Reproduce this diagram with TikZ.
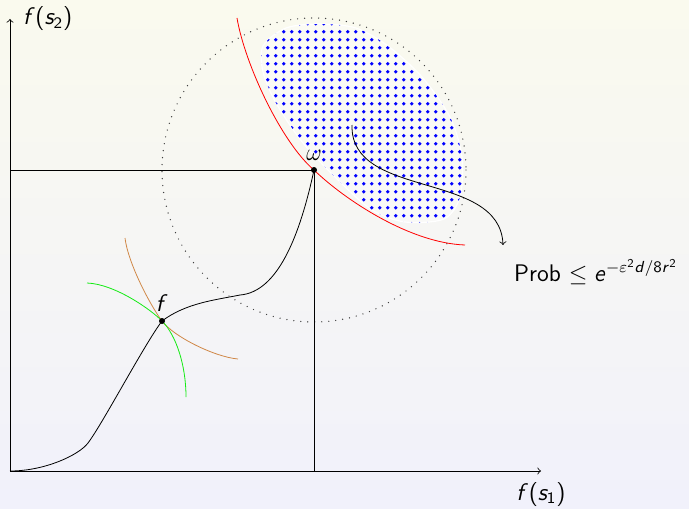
\documentclass[tikz,border=0pt]{standalone}
\DeclareSymbolFont{sfletters}{OT1}{cmss}{m}{sl}
\DeclareSymbolFont{sfdigits}{OT1}{cmss}{m}{n}
\DeclareMathSymbol{f}{\mathalpha}{sfletters}{`f}
\DeclareMathSymbol{s}{\mathalpha}{sfletters}{`s}
\DeclareMathSymbol{e}{\mathalpha}{sfletters}{`e}
\DeclareMathSymbol{d}{\mathalpha}{sfletters}{`d}
\DeclareMathSymbol{r}{\mathalpha}{sfletters}{`r}
\DeclareMathSymbol{1}{\mathalpha}{sfdigits}{`1}
\DeclareMathSymbol{2}{\mathalpha}{sfdigits}{`2}
\DeclareMathSymbol{8}{\mathalpha}{sfdigits}{`8}
\DeclareMathSymbol{(}{\mathopen}{sfdigits}{`(}
\DeclareMathSymbol{)}{\mathclose}{sfdigits}{`)}
\DeclareMathSymbol{/}{\mathord}{sfdigits}{`/}
\definecolor{bgtop}{RGB}{250,250,238}
\definecolor{bgbot}{RGB}{241,241,251}
\definecolor{tancurve}{RGB}{208,136,72}
\definecolor{greencurve}{RGB}{20,235,20}
\tikzset{
  every node/.style={font=\sffamily\large},
  dotcircle/.style={draw=black!75, line cap=round, dash pattern=on 0pt off 3.5pt, line width=0.7pt},
  ptdot/.style={circle, fill=black, inner sep=0pt, minimum size=3pt},
  regiondot/.style={fill=blue}
}
\newcommand{\regionpath}{plot[smooth cycle] coordinates {
      (263,46) (286,28) (320,24) (356,28) (388,46) (422,77) (450,117) (462,157)
      (460,197) (444,219) (405,222) (372,210) (340,182) (303,143) (276,103) (263,72)}}
\begin{document}
\begin{tikzpicture}[x=0.5pt, y=-0.5pt]
  \shade[top color=bgtop, bottom color=bgbot] (0,0) rectangle (689,508);
  \useasboundingbox (0,0) rectangle (689,508);
  \coordinate (O) at (10,471);
  \coordinate (ytop) at (10,19);
  \coordinate (xend) at (541,471);
  \coordinate (w) at (314,170);
  \coordinate (f) at (162,321);
  \coordinate (tail) at (352,125);
  \coordinate (tip) at (503,245);
  % dotted region
  \fill[white, fill opacity=0.35] \regionpath;
  \draw[white, line width=0.6pt] \regionpath;
  \begin{scope}
    \clip \regionpath;
    \foreach \i in {0,...,26} {
      \foreach \j in {0,...,26} {
        \fill[regiondot] (259.7+8*\i, 23.7+8*\j) circle (1.9);
      }
    }
  \end{scope}
  \draw[dotcircle] (w) circle (152);
  \draw[->] (O) -- (ytop);
  \draw[->] (O) -- (xend);
  \node[anchor=west] (ylab) at ([xshift=3]ytop) {$f(s_2)$};
  \node[anchor=north] (xlab) at ([yshift=-2]xend) {$f(s_1)$};
  \draw (O |- w) -- (w) -- (w |- O);
  \draw[red] (237,18) .. controls (245,65) and (282,143) .. (w)
    .. controls (345,200) and (410,243) .. (465,245);
  \draw[tancurve] (125,238) .. controls (128,263) and (150,305) .. (f)
    .. controls (174,337) and (215,357) .. (238,359);
  \draw[greencurve] (87,283) .. controls (115,284) and (151.5,310) .. (f)
    .. controls (176,335) and (186,365) .. (186,397);
  \draw (O) .. controls (45,471) and (79,455) .. (88,443)
    .. controls (103,423) and (144,345) .. (f)
    .. controls (186,303) and (215,300) .. (240,295)
    .. controls (278,292) and (300,235) .. (w);
  \node[ptdot] at (w) {};
  \node[ptdot] at (f) {};
  \node[above=1pt] (wlab) at (w) {$\omega$};
  \node[above=1pt] (flab) at (f) {$f$};
  \draw[->] (tail) .. controls (350,200) and (500,170) .. (tip);
  \node (prob) at (596,272) {Prob $\leq e^{-\varepsilon^2 d/8r^2}$};
\end{tikzpicture}
\end{document}
